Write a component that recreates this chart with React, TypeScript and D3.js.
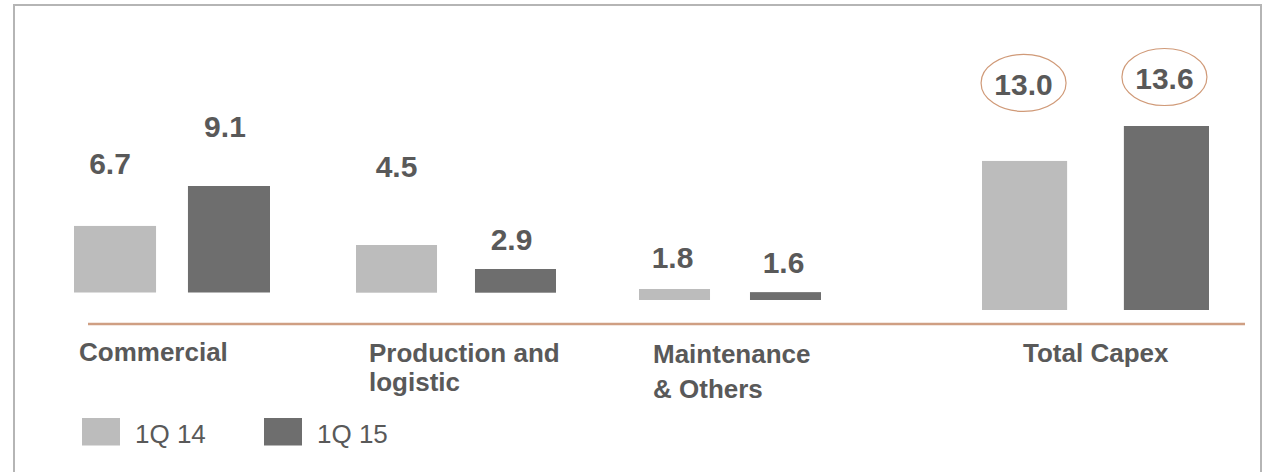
import React from "react";
import * as d3 from "d3";

// ---- data ----
const categories = ["Commercial", "Production and logistic", "Maintenance & Others", "Total Capex"];
const categoryLines = [["Commercial"], ["Production and", "logistic"], ["Maintenance", "& Others"], ["Total Capex"]];
const series = ["1Q 14", "1Q 15"];
const values1Q14 = [6.7, 4.5, 1.8, 13.0];
const values1Q15 = [9.1, 2.9, 1.6, 13.6];
const highlighted = [false, false, false, true];

// ---- layout (slide-style: every group has its own broken scale) ----
const W = 1264;
const H = 472;
const groupLayout = [
  { x0: 74, x1: 270, pad: 0.28, base: 292.5, floor: 2.7, top: 186 },
  { x0: 356, x1: 556, pad: 0.319, base: 292.7, floor: 1.32, top: 245 },
  { x0: 639, x1: 821, pad: 0.36, base: 300, floor: 1.1, top: 289 },
  { x0: 982, x1: 1209, pad: 0.4, base: 310, floor: 10.44, top: 126 },
];
// label offsets [dx, dy] relative to bar top-centre
const labelOffsets = [
  [[-5, -52], [-4, -49]],
  [[0, -68], [-4, -19]],
  [[-2, -21], [-2, -19]],
  [[-1, -66], [-2, -37]],
];
const catLabelPos = [
  { x: 79, ys: [361] },
  { x: 369, ys: [361.5, 391] },
  { x: 653, ys: [363, 398] },
  { x: 1023, ys: [361.5] },
];
const colors = ["#bcbcbc", "#6e6e6e"];
const textColor = "#595959";
const accent = "#cf9f83";
const fmt = d3.format(".1f");

export default function App() {
  const seriesValues = [values1Q14, values1Q15];
  return (
    <svg
      width={W}
      height={H}
      style={{ position: "absolute", left: 0, top: 0, background: "#fff" }}
      fontFamily="'Liberation Sans', Arial, sans-serif"
    >
      <rect x={14} y={5} width={1247} height={520} fill="#fff" stroke="#b5b5b5" strokeWidth={2} />
      {categories.map((cat, gi) => {
        const L = groupLayout[gi];
        const vals = seriesValues.map((s) => s[gi]);
        const x = d3.scaleBand<string>().domain(series).range([L.x0, L.x1]).paddingInner(L.pad);
        const y = d3
          .scaleLinear()
          .domain([L.floor, d3.max(vals) as number])
          .range([L.base, L.top]);
        return (
          <g key={cat}>
            {series.map((s, si) => {
              const v = vals[si];
              const bx = x(s) as number;
              const bw = x.bandwidth();
              const top = y(v);
              const [dx, dy] = labelOffsets[gi][si];
              const cx = bx + bw / 2 + dx;
              const ty = top + dy;
              return (
                <g key={s}>
                  <rect x={bx} y={top} width={bw} height={y(L.floor) - top} fill={colors[si]} />
                  {highlighted[gi] && (
                    <ellipse cx={cx} cy={ty - 12} rx={42.5} ry={28.5} fill="none" stroke="#d09a78" strokeWidth={1.2} />
                  )}
                  <text x={cx} y={ty} textAnchor="middle" fontSize={30} fontWeight="bold" fill={textColor}>
                    {fmt(v)}
                  </text>
                </g>
              );
            })}
            {categoryLines[gi].map((line, li) => (
              <text
                key={line}
                x={catLabelPos[gi].x}
                y={catLabelPos[gi].ys[li]}
                fontSize={26}
                fontWeight="bold"
                fill={textColor}
              >
                {line}
              </text>
            ))}
          </g>
        );
      })}
      <line x1={88} x2={1245} y1={324} y2={324} stroke={accent} strokeWidth={2.5} />
      {series.map((s, si) => {
        const lx = [82, 264][si];
        return (
          <g key={s}>
            <rect x={lx} y={418} width={38} height={27.5} fill={colors[si]} />
            <text x={lx + 53} y={442.5} fontSize={26} fill={textColor}>
              {s}
            </text>
          </g>
        );
      })}
    </svg>
  );
}
